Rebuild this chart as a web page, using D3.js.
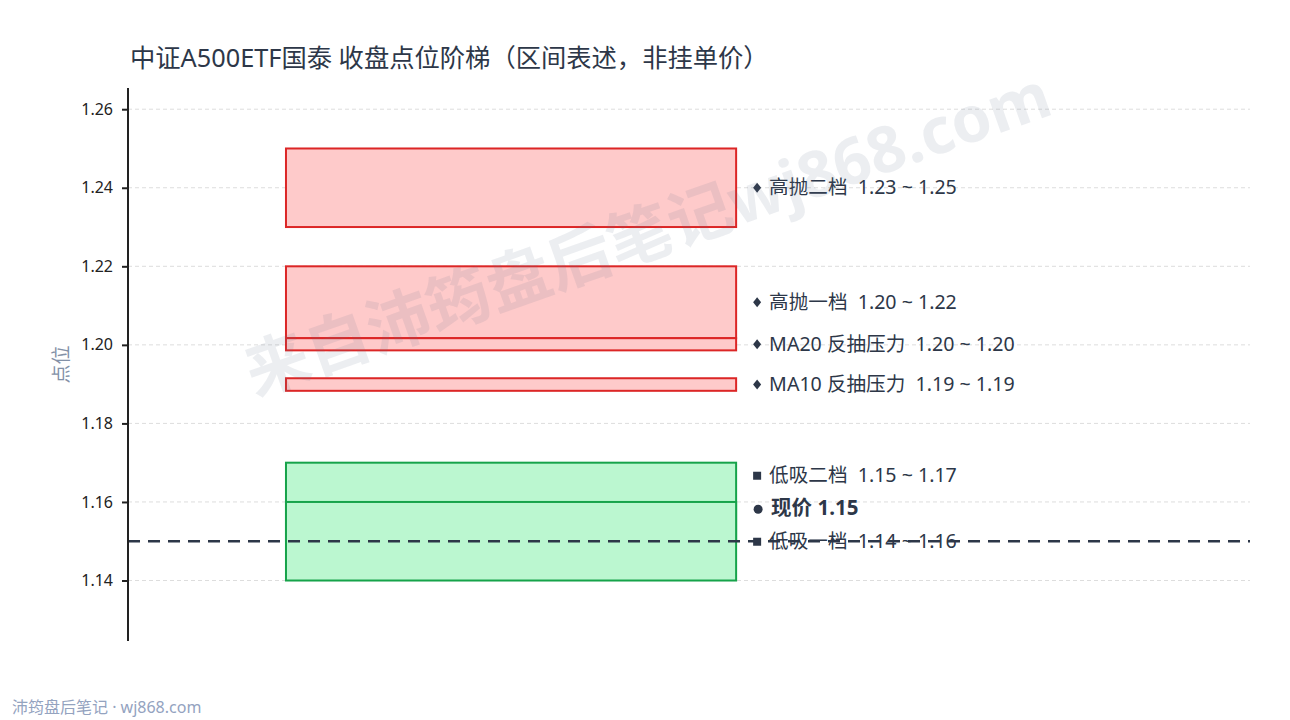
<!DOCTYPE html>
<html>
<head>
<meta charset="utf-8">
<script src="https://cdn.jsdelivr.net/npm/d3@7"></script>
<style>
  html, body { margin: 0; padding: 0; background: #fff; }
  svg { display: block; font-family: "Noto Sans", "Noto Sans CJK SC", sans-serif; }
</style>
</head>
<body>
<div id="chart"></div>
<script>
// Zones (lower / upper bound of each band)
const zoneNames = ['高抛二档', '高抛一档', 'MA20 反抽压力', 'MA10 反抽压力', '低吸二档', '低吸一档'];
const zoneLow  = [1.23, 1.2017, 1.1986, 1.1883, 1.15, 1.14];
const zoneHigh = [1.25, 1.22, 1.2017, 1.1915, 1.17, 1.16];
const zoneSide = ['sell', 'sell', 'sell', 'sell', 'buy', 'buy'];
const currentPrice = 1.15;
const yTickValues = [1.14, 1.16, 1.18, 1.20, 1.22, 1.24, 1.26];

const titleText = '中证A500ETF国泰 收盘点位阶梯（区间表述，非挂单价）';
const yAxisLabel = '点位';
const footerText = '沛筠盘后笔记 · wj868.com';
const watermarkText = '来自沛筠盘后笔记wj868.com';

const W = 1290, H = 720;
const margin = { top: 88, right: 40, bottom: 79, left: 128 };

const colors = {
  sell: { fill: '#fecaca', stroke: '#dc2626' },
  buy:  { fill: '#bbf7d0', stroke: '#16a34a' },
  text: '#2d3748',
  axis: '#222222',
  grid: '#dddddd'
};

const svg = d3.select('#chart').append('svg')
  .attr('width', W)
  .attr('height', H);

// y domain padded 14% of data span on each side
const lo = d3.min(zoneLow), hi = d3.max(zoneHigh);
const pad = (hi - lo) * 0.14;
const y = d3.scaleLinear()
  .domain([lo - pad, hi + pad])
  .range([H - margin.bottom, margin.top]);

const x = d3.scaleLinear()
  .domain([0, 1])
  .range([margin.left, W - margin.right]);

const boxStart = 0.1408, boxEnd = 0.542;

// Title
svg.append('text')
  .attr('x', 130)
  .attr('y', 67)
  .attr('font-size', '25.3px')
  .attr('fill', colors.text)
  .text(titleText);

// Grid lines
svg.append('g')
  .selectAll('line')
  .data(yTickValues)
  .join('line')
  .attr('x1', x(0))
  .attr('x2', x(1))
  .attr('y1', d => y(d))
  .attr('y2', d => y(d))
  .attr('stroke', colors.grid)
  .attr('stroke-width', 1)
  .attr('stroke-dasharray', '4,3');

// Zone boxes
const zones = zoneNames.map((name, i) => ({
  name, low: zoneLow[i], high: zoneHigh[i], side: zoneSide[i]
}));

svg.append('g')
  .selectAll('rect')
  .data(zones)
  .join('rect')
  .attr('x', x(boxStart))
  .attr('width', x(boxEnd) - x(boxStart))
  .attr('y', d => y(d.high))
  .attr('height', d => y(d.low) - y(d.high))
  .attr('fill', d => colors[d.side].fill)
  .attr('stroke', d => colors[d.side].stroke)
  .attr('stroke-width', 2);

// Labels: spread upwards so they don't collide
const labels = zones.map(z => ({
  text: `${z.name}  ${z.low.toFixed(2)} ~ ${z.high.toFixed(2)}`,
  value: (z.low + z.high) / 2,
  shape: z.side === 'sell' ? 'diamond' : 'square',
  bold: false
}));
labels.push({ text: `现价 ${currentPrice.toFixed(2)}`, value: currentPrice, shape: 'circle', bold: true });

const ordered = labels
  .map((l, i) => ({ ...l, idx: i }))
  .sort((a, b) => a.value - b.value || a.idx - b.idx);
const gap = 33;
let prevY = Infinity;
ordered.forEach(l => {
  l.y = Math.min(y(l.value), prevY - gap);
  prevY = l.y;
});

const markerX = x(boxEnd) + 21;
const textX = x(boxEnd) + 33;

const labelG = svg.append('g');
ordered.forEach(l => {
  if (l.shape === 'diamond') {
    labelG.append('path')
      .attr('d', `M${markerX},${l.y - 5}L${markerX + 4},${l.y}L${markerX},${l.y + 5}L${markerX - 4},${l.y}Z`)
      .attr('fill', colors.text);
  } else if (l.shape === 'square') {
    labelG.append('rect')
      .attr('x', markerX - 4)
      .attr('y', l.y - 3.5)
      .attr('width', 8)
      .attr('height', 8)
      .attr('fill', colors.text);
  } else {
    labelG.append('circle')
      .attr('cx', markerX + 1)
      .attr('cy', l.y + 1)
      .attr('r', 4.5)
      .attr('fill', colors.text);
  }
  labelG.append('text')
    .attr('x', l.bold ? textX + 2 : textX)
    .attr('y', l.y - 1)
    .attr('dominant-baseline', 'central')
    .attr('font-size', l.bold ? '20.5px' : '19.6px')
    .attr('font-weight', l.bold ? 700 : 400)
    .attr('fill', colors.text)
    .style('white-space', 'pre')
    .text(l.text);
});

// Current price dashed line
svg.append('line')
  .attr('x1', x(0))
  .attr('x2', x(1))
  .attr('y1', y(currentPrice))
  .attr('y2', y(currentPrice))
  .attr('stroke', colors.text)
  .attr('stroke-width', 2.5)
  .attr('stroke-dasharray', '12,8');

// Y axis
const yAxis = d3.axisLeft(y)
  .tickValues(yTickValues)
  .tickFormat(d3.format('.2f'))
  .tickSize(6)
  .tickPadding(9);

const axisG = svg.append('g')
  .attr('transform', `translate(${margin.left},0)`)
  .call(yAxis);
axisG.select('.domain')
  .attr('d', `M0,${margin.top}V${H - margin.bottom}`)
  .attr('stroke', colors.axis)
  .attr('stroke-width', 2);
axisG.selectAll('.tick line')
  .attr('stroke', colors.axis)
  .attr('stroke-width', 2);
axisG.selectAll('.tick text')
  .attr('font-size', '16px')
  .attr('font-family', '"Noto Sans", "Noto Sans CJK SC", sans-serif')
  .attr('fill', colors.axis);

// Y axis title
svg.append('text')
  .attr('transform', `translate(61, ${(margin.top + H - margin.bottom) / 2}) rotate(-90)`)
  .attr('text-anchor', 'middle')
  .attr('dominant-baseline', 'central')
  .attr('font-size', '19px')
  .attr('fill', '#8391a7')
  .text(yAxisLabel);

// Watermark
svg.append('text')
  .attr('transform', 'translate(647, 232) rotate(-19.5)')
  .attr('text-anchor', 'middle')
  .attr('dominant-baseline', 'central')
  .attr('font-size', '64px')
  .attr('font-weight', 700)
  .attr('fill', '#64748b')
  .attr('fill-opacity', 0.12)
  .text(watermarkText);

// Footer
svg.append('text')
  .attr('x', 12)
  .attr('y', 713)
  .attr('font-size', '16px')
  .attr('fill', '#94a3bf')
  .text(footerText);
</script>
</body>
</html>
